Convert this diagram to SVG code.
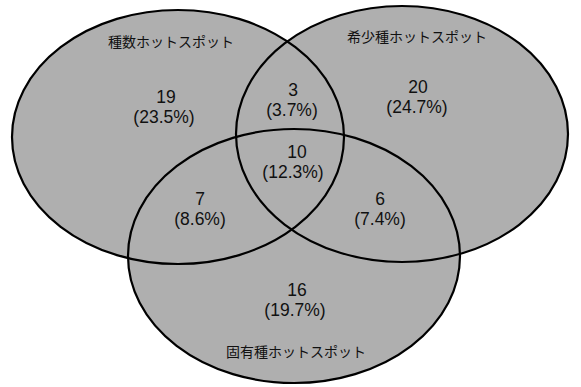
<svg xmlns="http://www.w3.org/2000/svg" width="581" height="387" viewBox="0 0 581 387">
<style>
.e{fill:#afafaf;stroke:none}
.o{fill:none;stroke:#000;stroke-width:2.2}
.n{font-family:"Liberation Sans","Noto Sans CJK JP",sans-serif;font-size:17.5px;fill:#111;text-anchor:middle}
.l{font-family:"Noto Sans CJK JP",sans-serif;font-size:14px;fill:#111;text-anchor:middle}
</style>
<rect width="581" height="387" fill="#fff"/>
<g id="fills">
<ellipse class="e" cx="178" cy="137" rx="166" ry="127"/>
<ellipse class="e" cx="402" cy="134" rx="166" ry="128"/>
<ellipse class="e" cx="294" cy="256" rx="166" ry="127"/>
</g>
<g id="species-hotspot">
<ellipse class="o" cx="178" cy="137" rx="166" ry="127"/>
<text class="l" x="171" y="47">種数ホットスポット</text>
<text class="n" x="166" y="103">19</text>
<text class="n" x="164" y="123">(23.5%)</text>
</g>
<g id="rare-hotspot">
<ellipse class="o" cx="402" cy="134" rx="166" ry="128"/>
<text class="l" x="417" y="42">希少種ホットスポット</text>
<text class="n" x="418" y="93">20</text>
<text class="n" x="417" y="113">(24.7%)</text>
</g>
<g id="endemic-hotspot">
<ellipse class="o" cx="294" cy="256" rx="166" ry="127"/>
<text class="l" x="296" y="357">固有種ホットスポット</text>
<text class="n" x="297" y="296">16</text>
<text class="n" x="295" y="316">(19.7%)</text>
</g>
<g id="overlaps">
<text class="n" x="293" y="96">3</text>
<text class="n" x="292" y="116">(3.7%)</text>
<text class="n" x="297" y="158">10</text>
<text class="n" x="293" y="178">(12.3%)</text>
<text class="n" x="200" y="205">7</text>
<text class="n" x="200" y="225">(8.6%)</text>
<text class="n" x="380" y="205">6</text>
<text class="n" x="380" y="225">(7.4%)</text>
</g>
</svg>
